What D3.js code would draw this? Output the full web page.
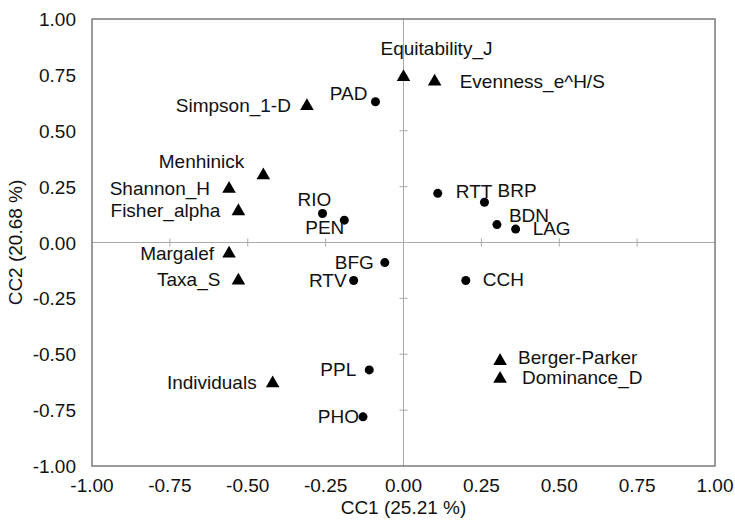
<!DOCTYPE html>
<html>
<head>
<meta charset="utf-8">
<script src="https://cdn.jsdelivr.net/npm/d3@7"></script>
<style>
body{margin:0;background:#fff;}
text{font-family:"Liberation Sans",Arial,Helvetica,sans-serif;fill:#111;}
</style>
</head>
<body>
<svg id="plot"></svg>
<script>
//sites (circles)
var siteNames=["PAD","RTT","BRP","BDN","LAG","CCH","RIO","PEN","BFG","RTV","PPL","PHO"]
var siteX=[-0.09,0.11,0.26,0.30,0.36,0.20,-0.26,-0.19,-0.06,-0.16,-0.11,-0.13]
var siteY=[0.63,0.22,0.18,0.08,0.06,-0.17,0.13,0.10,-0.09,-0.17,-0.57,-0.78]

//diversity indices (triangles)
var varNames=["Equitability_J","Evenness_e^H/S","Simpson_1-D","Menhinick","Shannon_H","Fisher_alpha","Margalef","Taxa_S","Individuals","Berger-Parker","Dominance_D"]
var varX=[0.00,0.10,-0.31,-0.45,-0.56,-0.53,-0.56,-0.53,-0.42,0.31,0.31]
var varY=[0.74,0.72,0.61,0.30,0.24,0.14,-0.05,-0.17,-0.63,-0.53,-0.61]

var tickValues=[-1,-0.75,-0.5,-0.25,0,0.25,0.5,0.75,1]
var xTitle="CC1 (25.21 %)"
var yTitle="CC2 (20.68 %)"

//label placement: [dx, dy, anchor]
var labelPos={
    "PAD":[-8,-2,"end"],"RTT":[18,5,"start"],"BRP":[13,-5,"start"],"BDN":[12,-3,"start"],
    "LAG":[17,6,"start"],"CCH":[17,6,"start"],"RIO":[-8,-7,"middle"],"PEN":[0,14,"end"],
    "BFG":[-11,6,"end"],"RTV":[-7,7,"end"],"PPL":[-13,6,"end"],"PHO":[-4,6,"end"],
    "Equitability_J":[33,-22,"middle"],"Evenness_e^H/S":[25,6,"start"],"Simpson_1-D":[-16,6,"end"],
    "Menhinick":[-19,-7,"end"],"Shannon_H":[-19,6,"end"],"Fisher_alpha":[-18,6,"end"],
    "Margalef":[-15,6,"end"],"Taxa_S":[-18,6,"end"],"Individuals":[-16,6,"end"],
    "Berger-Parker":[18,3,"start"],"Dominance_D":[22,5,"start"]
}

var screen={width:735,height:522}
var margins={top:19,bottom:56,left:92,right:20}
var fs=19

var svg=d3.select("#plot")
    .attr("width",screen.width)
    .attr("height",screen.height)

var xScale=d3.scaleLinear()
    .domain([-1,1])
    .range([margins.left,screen.width-margins.right])
var yScale=d3.scaleLinear()
    .domain([-1,1])
    .range([screen.height-margins.bottom,margins.top])

//zero lines with crossing ticks
svg.append("line")
    .attr("x1",xScale(-1)).attr("x2",xScale(1))
    .attr("y1",yScale(0)).attr("y2",yScale(0))
    .attr("stroke","#aaa").attr("stroke-width",1)
svg.append("line")
    .attr("x1",xScale(0)).attr("x2",xScale(0))
    .attr("y1",yScale(-1)).attr("y2",yScale(1))
    .attr("stroke","#aaa").attr("stroke-width",1)

var inner=tickValues.filter(function(d){return d>-1&&d<1})
svg.selectAll(".xt")
    .data(inner)
    .enter()
    .append("line")
    .attr("x1",function(d){return xScale(d)})
    .attr("x2",function(d){return xScale(d)})
    .attr("y1",yScale(0)-4)
    .attr("y2",yScale(0)+4)
    .attr("stroke","#aaa")
svg.selectAll(".yt")
    .data(inner)
    .enter()
    .append("line")
    .attr("y1",function(d){return yScale(d)})
    .attr("y2",function(d){return yScale(d)})
    .attr("x1",xScale(0)-4)
    .attr("x2",xScale(0)+4)
    .attr("stroke","#aaa")

//frame
svg.append("rect")
    .attr("x",xScale(-1)).attr("y",yScale(1))
    .attr("width",xScale(1)-xScale(-1))
    .attr("height",yScale(-1)-yScale(1))
    .attr("fill","none")
    .attr("stroke","#7a7a7a")
    .attr("stroke-width",1.5)

//tick labels (plain hyphen like the original)
var fmt=function(d){return d3.format(".2f")(d).replace("\u2212","-")}
svg.selectAll(".xl")
    .data(tickValues)
    .enter()
    .append("text")
    .attr("x",function(d){return xScale(d)})
    .attr("y",yScale(-1)+26)
    .attr("text-anchor","middle")
    .attr("font-size",fs)
    .text(function(d){return fmt(d)})
svg.selectAll(".yl")
    .data(tickValues)
    .enter()
    .append("text")
    .attr("x",xScale(-1)-16)
    .attr("y",function(d){return yScale(d)+7})
    .attr("text-anchor","end")
    .attr("font-size",fs)
    .text(function(d){return fmt(d)})

//axis titles
svg.append("text")
    .attr("x",xScale(0))
    .attr("y",514)
    .attr("text-anchor","middle")
    .attr("font-size",fs)
    .text(xTitle)
svg.append("text")
    .attr("transform","translate(22,"+yScale(0)+") rotate(-90)")
    .attr("text-anchor","middle")
    .attr("font-size",fs)
    .text(yTitle)

var sites=siteNames.map(function(n,i){return {name:n,x:siteX[i],y:siteY[i]}})
var vars=varNames.map(function(n,i){return {name:n,x:varX[i],y:varY[i]}})

svg.selectAll(".site")
    .data(sites)
    .enter()
    .append("circle")
    .attr("cx",function(d){return xScale(d.x)})
    .attr("cy",function(d){return yScale(d.y)})
    .attr("r",4.5)
    .attr("fill","#000")

svg.selectAll(".var")
    .data(vars)
    .enter()
    .append("path")
    .attr("d",d3.symbol().type(d3.symbolTriangle).size(80))
    .attr("transform",function(d){return "translate("+xScale(d.x)+","+yScale(d.y)+")"})
    .attr("fill","#000")

//labels
svg.selectAll(".lab")
    .data(sites.concat(vars))
    .enter()
    .append("text")
    .attr("x",function(d){return xScale(d.x)+labelPos[d.name][0]})
    .attr("y",function(d){return yScale(d.y)+labelPos[d.name][1]})
    .attr("text-anchor",function(d){return labelPos[d.name][2]})
    .attr("font-size",fs)
    .text(function(d){return d.name})
</script>
</body>
</html>
